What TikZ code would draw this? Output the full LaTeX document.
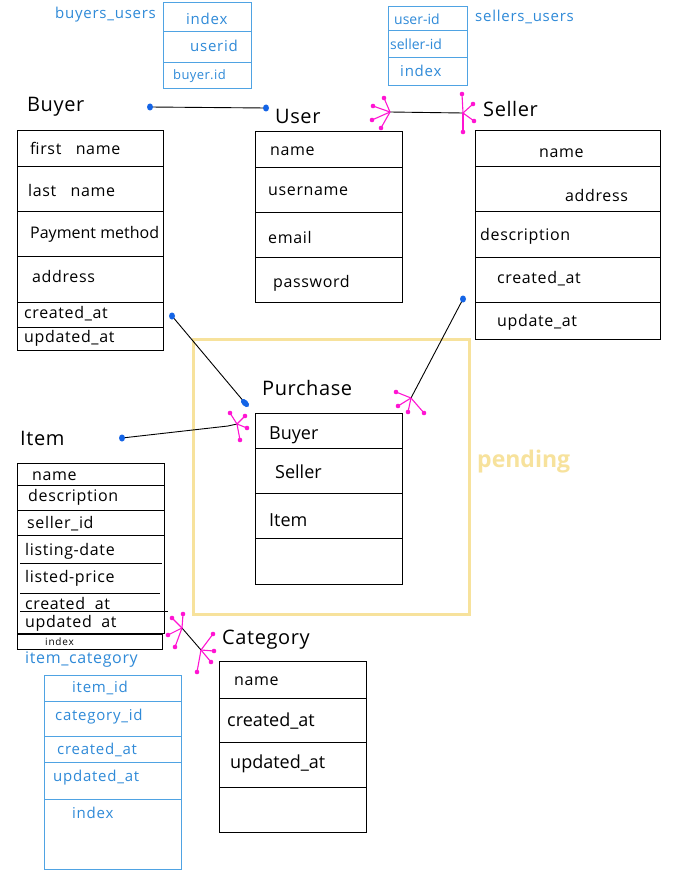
\documentclass[tikz,border=0pt]{standalone}
\usepackage{fontspec}
\setmainfont{Open Sans}
\definecolor{penblue}{HTML}{2F8AD8}
\definecolor{boxblue}{HTML}{4FA3E3}
\definecolor{dotblue}{HTML}{1464E6}
\definecolor{crowpink}{HTML}{FF14D2}
\definecolor{padyellow}{HTML}{F7E29C}
\tikzset{
  tbl/.style={draw=black, line width=0.9pt, anchor=north west, inner sep=0pt, outer sep=0pt},
  btbl/.style={draw=boxblue, line width=1pt, anchor=north west, inner sep=0pt, outer sep=0pt},
  rowline/.style={draw=black, line width=0.9pt},
  browline/.style={draw=boxblue, line width=1pt},
  hw/.style={anchor=west, inner sep=0pt, font=\fontsize{16}{18}\selectfont\addfontfeatures{LetterSpace=4}, text=black},
  hwt/.style={anchor=west, inner sep=0pt, font=\fontsize{20}{22}\selectfont\addfontfeatures{LetterSpace=3}, text=black},
  bw/.style={anchor=west, inner sep=0pt, font=\fontsize{15}{17}\selectfont\addfontfeatures{LetterSpace=5}, text=penblue},
  conn/.style={draw=black, line width=0.9pt},
  crowline/.style={draw=crowpink, line width=1.1pt},
  bdot/.style={fill=dotblue, draw=none},
}
\newcommand\crowfoot[2]{%
  \foreach \p in {#2} {\draw[crowline] (#1) -- ++(\p) coordinate (cft);
    \fill[crowpink] (cft) circle (2.3pt);}}
\newcommand\bluedot[1]{\fill[bdot] (#1) ellipse (3pt and 3.5pt);}
\begin{document}
\begin{tikzpicture}[x=1pt,y=-1pt]
\useasboundingbox[fill=white] (0,0) rectangle (677,888);

% ---------- buyers_users ----------
\node[btbl, minimum width=88pt, minimum height=86pt] (bu) at (163,3) {};
\draw[browline] (bu.west |- 0,32) -- (bu.east |- 0,32);
\draw[browline] (bu.west |- 0,63) -- (bu.east |- 0,63);
\node[bw] (bulab) at (55,15) {buyers\_users};
\node[bw] (bu1) at (186,19) {index};
\node[bw] (bu2) at (190,46) {userid};
\node[bw, font=\fontsize{13}{15}\selectfont\addfontfeatures{LetterSpace=3}] (bu3) at (173,76) {buyer.id};

% ---------- sellers_users ----------
\node[btbl, minimum width=79pt, minimum height=79pt] (su) at (388,7) {};
\draw[browline] (su.west |- 0,31) -- (su.east |- 0,31);
\draw[browline] (su.west |- 0,58) -- (su.east |- 0,58);
\node[bw] (sulab) at (475,17) {sellers\_users};
\node[bw, font=\fontsize{14}{16}\selectfont] (su1) at (394,19) {user-id};
\node[bw, font=\fontsize{14}{16}\selectfont] (su2) at (390,44) {seller-id};
\node[bw] (su3) at (400,71) {index};

% ---------- Buyer ----------
\node[hwt] (buyerlab) at (27,107) {Buyer};
\node[tbl, minimum width=146pt, minimum height=220pt] (buyer) at (17,130) {};
\foreach \yy in {166,211,256,302,327}
  \draw[rowline] (buyer.west |- 0,\yy) -- (buyer.east |- 0,\yy);
\node[hw] (b1) at (30,148) {first \ \ name};
\node[hw] (b2) at (28,190) {last \ \ name};
\node[hw, font=\fontsize{16}{18}\selectfont] (b3) at (30,234) {Payment method};
\node[hw] (b4) at (32,276) {address};
\node[hw] (b5) at (24,314) {created\_at};
\node[hw] (b6) at (24,338) {updated\_at};

% ---------- User ----------
\node[hwt] (userlab) at (275,116) {User};
\node[tbl, minimum width=147pt, minimum height=171pt] (user) at (255,131) {};
\foreach \yy in {167,212,257}
  \draw[rowline] (user.west |- 0,\yy) -- (user.east |- 0,\yy);
\node[hw] (u1) at (270,151) {name};
\node[hw] (u2) at (268,191) {username};
\node[hw] (u3) at (268,237) {email};
\node[hw] (u4) at (273,283) {password};

% ---------- Seller ----------
\node[hwt] (sellerlab) at (483,109) {Seller};
\node[tbl, minimum width=185pt, minimum height=209pt] (seller) at (475,130) {};
\foreach \yy in {166,211,257,302}
  \draw[rowline] (seller.west |- 0,\yy) -- (seller.east |- 0,\yy);
\node[hw] (s1) at (539,153) {name};
\node[hw] (s2) at (565,195) {address};
\node[hw] (s3) at (480,236) {description};
\node[hw] (s4) at (497,279) {created\_at};
\node[hw] (s5) at (497,322) {update\_at};

% ---------- pending frame ----------
\node[draw=padyellow, line width=3.2pt, anchor=north west, inner sep=0pt,
      minimum width=276pt, minimum height=275pt] (pend) at (192,338) {};
\node[anchor=west, inner sep=0pt, text=padyellow,
      font=\fontsize{23}{25}\selectfont\bfseries] (pendlab) at (477,462) {pending};

% ---------- Purchase ----------
\node[hwt] (purlab) at (262,388) {Purchase};
\node[tbl, minimum width=147pt, minimum height=171pt] (pur) at (255,413) {};
\foreach \yy in {448,493,538}
  \draw[rowline] (pur.west |- 0,\yy) -- (pur.east |- 0,\yy);
\node[hw, font=\fontsize{18}{20}\selectfont] (p1) at (269,435) {Buyer};
\node[hw, font=\fontsize{18}{20}\selectfont] (p2) at (275,472) {Seller};
\node[hw, font=\fontsize{18}{20}\selectfont] (p3) at (269,520) {Item};

% ---------- Item ----------
\node[hwt] (itemlab) at (20,438) {Item};
\node[tbl, minimum width=147pt, minimum height=170pt] (item) at (17,463) {};
\foreach \yy in {485,510,535}
  \draw[rowline] (item.west |- 0,\yy) -- (item.east |- 0,\yy);
\draw[rowline] (20,563) -- (162,563);
\draw[rowline] (20,593) -- (160,593);
\draw[rowline] (20,611) -- (168,611);
\node[tbl, minimum width=145pt, minimum height=15pt] (itemidx) at (17,634) {};
\node[hw] (i1) at (32,476) {name};
\node[hw] (i2) at (28,497) {description};
\node[hw] (i3) at (27,524) {seller\_id};
\node[hw] (i4) at (25,551) {listing-date};
\node[hw] (i5) at (25,578) {listed-price};
\node[hw] (i6) at (25,603) {created \ at};
\node[hw] (i7) at (25,623) {updated \ at};
\node[hw, font=\fontsize{10}{11}\selectfont\addfontfeatures{LetterSpace=8}] (i8) at (45,642) {index};

% ---------- item_category ----------
\node[bw, font=\fontsize{16}{18}\selectfont\addfontfeatures{LetterSpace=4}] (iclab) at (25,660) {item\_category};
\node[btbl, minimum width=137pt, minimum height=194pt] (ic) at (44,675) {};
\foreach \yy in {701,736,762,799}
  \draw[browline] (ic.west |- 0,\yy) -- (ic.east |- 0,\yy);
\node[bw] (ic1) at (72,688) {item\_id};
\node[bw] (ic2) at (55,717) {category\_id};
\node[bw] (ic3) at (57,750) {created\_at};
\node[bw] (ic4) at (53,778) {updated\_at};
\node[bw] (ic5) at (72,813) {index};

% ---------- Category ----------
\node[hwt] (catlab) at (222,640) {Category};
\node[tbl, minimum width=147pt, minimum height=171pt] (cat) at (219,661) {};
\foreach \yy in {698,742,787}
  \draw[rowline] (cat.west |- 0,\yy) -- (cat.east |- 0,\yy);
\node[hw] (c1) at (234,681) {name};
\node[hw, font=\fontsize{18}{20}\selectfont] (c2) at (227,721) {created\_at};
\node[hw, font=\fontsize{18}{20}\selectfont] (c3) at (230,764) {updated\_at};

% ---------- connector end points ----------
\coordinate (bu-a) at (150,107);
\coordinate (bu-b) at (266,108);
\coordinate (us-a) at (390,112);
\coordinate (us-b) at (463,113);
\coordinate (bp-a) at (172,316);
\coordinate (bp-b) at (245,403);
\coordinate (sp-a) at (463,299);
\coordinate (sp-b) at (411,398);
\coordinate (ip-a) at (122,438);
\coordinate (ip-m) at (228,426);
\coordinate (ip-b) at (237,424);
\coordinate (ic-a) at (182,628);
\coordinate (ic-b) at (201,650);

% Buyer -- User
\draw[conn] (bu-a) -- (bu-b);
\bluedot{bu-a}\bluedot{bu-b}
% User -- Seller
\draw[conn] (us-a) -- (us-b);
\crowfoot{us-a}{{-6,-14},{-17,-6},{-18,8},{-9,16}}
\crowfoot{us-b}{{-1,-19},{10,-9},{11,8},{0,19}}
% Buyer -- Purchase
\draw[conn] (bp-a) -- (bp-b);
\bluedot{bp-a}
\fill[bdot, rotate around={45:(bp-b)}] (bp-b) ellipse (3pt and 5pt);
% Seller -- Purchase
\draw[conn] (sp-a) -- (sp-b);
\bluedot{sp-a}
\crowfoot{sp-b}{{-15,-6},{-13,8},{-3,14},{13,15}}
% Item -- Purchase
\draw[conn] (ip-a) -- (ip-m) -- (ip-b);
\bluedot{ip-a}
\crowfoot{ip-b}{{-7,-11},{8,-8},{10,4},{3,16}}
% Item -- Category
\draw[conn] (ic-a) -- (ic-b);
\crowfoot{ic-a}{{1,-14},{-10,-10},{-14,7},{-7,19}}
\crowfoot{ic-b}{{12,-16},{13,1},{10,12},{-4,22}}
\end{tikzpicture}
\end{document}
